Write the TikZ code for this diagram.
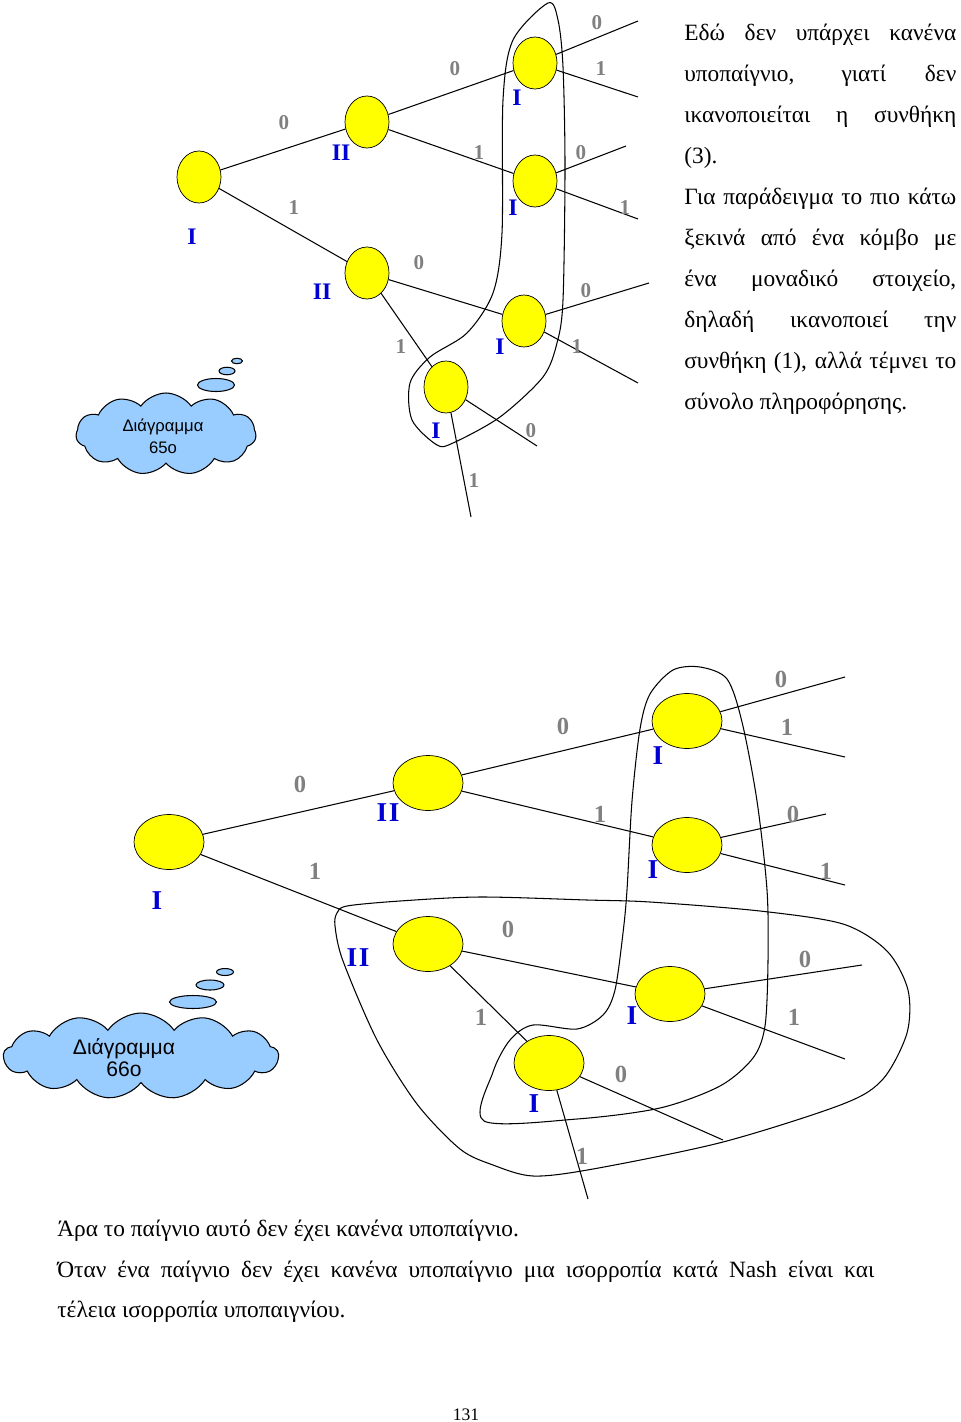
\documentclass[tikz,border=0pt]{standalone}
\usepackage{fontspec}
\setmainfont{Liberation Serif}
\newfontfamily\cloudfont{Liberation Sans}
\usepackage{tikz}
\usetikzlibrary{shapes.geometric,shapes.symbols}
\definecolor{movyellow}{RGB}{255,255,0}
\definecolor{cloudblue}{RGB}{153,204,255}
\definecolor{plyrblue}{RGB}{0,0,210}
\definecolor{actgray}{RGB}{128,128,128}
\newcommand{\jline}[2]{\makebox[#1][s]{#2}}

\begin{document}
\begin{tikzpicture}[
    x=0.02cm, y=-0.02cm,
    mov/.style={draw, ellipse, fill=movyellow, inner sep=0pt,
        minimum width=0.88cm, minimum height=1.04cm},
    movwide/.style={mov, minimum width=1.4cm, minimum height=1.1cm},
    plyr/.style={font=\fontsize{13.5}{14}\selectfont\bfseries, text=plyrblue, inner sep=0pt},
    plyrbig/.style={plyr, font=\fontsize{15.5}{16}\selectfont\bfseries},
    actlbl/.style={font=\fontsize{12}{13}\selectfont\bfseries, text=actgray, inner sep=0pt},
    actbig/.style={actlbl, font=\fontsize{14}{15}\selectfont\bfseries},
    brnch/.style={semithick},
    infoset/.style={semithick},
    thought/.style={draw, semithick, fill=cloudblue, ellipse, inner sep=0pt},
    puff/.style={cloud, cloud puffs=11, cloud puff arc=110, cloud ignores aspect,
        draw, semithick, fill=cloudblue, inner sep=0pt},
    bodytxt/.style={font=\fontsize{13.3}{23}\selectfont, align=left, inner sep=0pt},
    notetxt/.style={bodytxt, font=\fontsize{13.3}{23.3}\selectfont}
]
\useasboundingbox (0,0) rectangle (960,1422);

% upper tree (65o)
\node[mov] (r1) at (199,177) {};
\node[mov] (a1) at (367,122) {};
\node[mov] (b1) at (367,273) {};
\node[mov] (c1) at (535,63) {};
\node[mov] (d1) at (535,181) {};
\node[mov] (e1) at (524,321) {};
\node[mov] (f1) at (446,387) {};
\coordinate (lc1a) at (638,21);
\coordinate (lc1b) at (638,97);
\coordinate (ld1a) at (626,146);
\coordinate (ld1b) at (638,219);
\coordinate (le1a) at (649,283);
\coordinate (le1b) at (638,383);
\coordinate (lf1a) at (537,446);
\coordinate (lf1b) at (471,517);
\draw[brnch] (r1) -- (a1);
\draw[brnch] (r1) -- (b1);
\draw[brnch] (a1) -- (c1);
\draw[brnch] (a1) -- (d1);
\draw[brnch] (b1) -- (e1);
\draw[brnch] (b1) -- (f1);
\draw[brnch] (c1) -- (lc1a);
\draw[brnch] (c1) -- (lc1b);
\draw[brnch] (d1) -- (ld1a);
\draw[brnch] (d1) -- (ld1b);
\draw[brnch] (e1) -- (le1a);
\draw[brnch] (e1) -- (le1b);
\draw[brnch] (f1) -- (lf1a);
\draw[brnch] (f1) -- (lf1b);
\node[plyr] (pr1) at (192,237) {I};
\node[plyr] (pa1) at (341,153) {II};
\node[plyr] (pb1) at (322,292) {II};
\node[plyr] (pc1) at (517,98) {I};
\node[plyr] (pd1) at (513,208) {I};
\node[plyr] (pe1) at (500,347) {I};
\node[plyr] (pf1) at (436,431) {I};
\node[actlbl] (xr1a) at (284,123) {0};
\node[actlbl] (xr1b) at (294,208) {1};
\node[actlbl] (xa1a) at (455,69) {0};
\node[actlbl] (xa1b) at (479,153) {1};
\node[actlbl] (xb1a) at (419,263) {0};
\node[actlbl] (xb1b) at (401,347) {1};
\node[actlbl] (xc1a) at (597,23) {0};
\node[actlbl] (xc1b) at (601,69) {1};
\node[actlbl] (xd1a) at (581,153) {0};
\node[actlbl] (xd1b) at (625,208) {1};
\node[actlbl] (xe1a) at (586,291) {0};
\node[actlbl] (xe1b) at (577,347) {1};
\node[actlbl] (xf1a) at (531,431) {0};
\node[actlbl] (xf1b) at (474,481) {1};
\draw[infoset] plot[smooth cycle] coordinates {(548,3) (558,20) (563,67)
    (565,167) (563,300) (557,343) (543,377) (500,417) (453,443) (437,445)
    (412,420) (410,383) (430,357) (467,333) (493,293) (502,233) (503,100)
    (513,40)};

% cloud 65o
\node[puff, minimum width=3.6cm, minimum height=1.64cm] (cl1) at (166,434) {};
\node[font=\cloudfont\fontsize{9.5}{12.5}\selectfont, align=center, inner sep=0pt] (cl1txt) at (163,436) {Διάγραμμα\\65ο};
\node[thought, minimum width=0.74cm, minimum height=0.26cm] (tb1a) at (216,385) {};
\node[thought, minimum width=0.32cm, minimum height=0.15cm] (tb1b) at (227,371) {};
\node[thought, minimum width=0.22cm, minimum height=0.11cm] (tb1c) at (237,361) {};

% side note
\node[notetxt, anchor=north west] (note) at (684,24) {%
\jline{154.8pt}{Εδώ δεν υπάρχει κανένα}\\
\jline{154.8pt}{υποπαίγνιο, γιατί δεν}\\
\jline{154.8pt}{ικανοποιείται η συνθήκη}\\
(3).\\
\jline{154.8pt}{Για παράδειγμα το πιο κάτω}\\
\jline{154.8pt}{ξεκινά από ένα κόμβο με}\\
\jline{154.8pt}{ένα μοναδικό στοιχείο,}\\
\jline{154.8pt}{δηλαδή ικανοποιεί την}\\
\jline{154.8pt}{συνθήκη (1), αλλά τέμνει το}\\
σύνολο πληροφόρησης.};

% lower tree (66o)
\node[movwide] (r2) at (169,842) {};
\node[movwide] (a2) at (428,783) {};
\node[movwide] (b2) at (428,944) {};
\node[movwide] (c2) at (687,721) {};
\node[movwide] (d2) at (687,845) {};
\node[movwide] (e2) at (670,994) {};
\node[movwide] (f2) at (549,1063) {};
\coordinate (lc2a) at (845,677);
\coordinate (lc2b) at (845,757);
\coordinate (ld2a) at (826,814);
\coordinate (ld2b) at (845,885);
\coordinate (le2a) at (862,965);
\coordinate (le2b) at (845,1059);
\coordinate (lf2a) at (723,1140);
\coordinate (lf2b) at (588,1199);
\draw[brnch] (r2) -- (a2);
\draw[brnch] (r2) -- (b2);
\draw[brnch] (a2) -- (c2);
\draw[brnch] (a2) -- (d2);
\draw[brnch] (b2) -- (e2);
\draw[brnch] (b2) -- (f2);
\draw[brnch] (c2) -- (lc2a);
\draw[brnch] (c2) -- (lc2b);
\draw[brnch] (d2) -- (ld2a);
\draw[brnch] (d2) -- (ld2b);
\draw[brnch] (e2) -- (le2a);
\draw[brnch] (e2) -- (le2b);
\draw[brnch] (f2) -- (lf2a);
\draw[brnch] (f2) -- (lf2b);
\node[plyrbig] (pr2) at (157,901) {I};
\node[plyrbig] (pa2) at (388,813) {I\kern1pt I};
\node[plyrbig] (pb2) at (358,958) {I\kern1pt I};
\node[plyrbig] (pc2) at (658,756) {I};
\node[plyrbig] (pd2) at (653,870) {I};
\node[plyrbig] (pe2) at (632,1016) {I};
\node[plyrbig] (pf2) at (534,1104) {I};
\node[actbig] (xr2a) at (300,784) {0};
\node[actbig] (xr2b) at (315,871) {1};
\node[actbig] (xa2a) at (563,726) {0};
\node[actbig] (xa2b) at (600,814) {1};
\node[actbig] (xb2a) at (508,929) {0};
\node[actbig] (xb2b) at (481,1017) {1};
\node[actbig] (xc2a) at (781,679) {0};
\node[actbig] (xc2b) at (787,727) {1};
\node[actbig] (xd2a) at (793,814) {0};
\node[actbig] (xd2b) at (826,871) {1};
\node[actbig] (xe2a) at (805,959) {0};
\node[actbig] (xe2b) at (794,1017) {1};
\node[actbig] (xf2a) at (621,1074) {0};
\node[actbig] (xf2b) at (582,1156) {1};
\draw[infoset] plot[smooth cycle] coordinates {(700,667) (727,679) (742,722)
    (757,801) (767,890) (768,961) (765,1026) (753,1058) (720,1086) (660,1108)
    (577,1119) (484,1121) (493,1072) (510,1040) (533,1025) (577,1029)
    (603,1015) (615,990) (623,933) (627,890) (632,801) (640,729) (650,694)
    (673,670)};
\draw[infoset] plot[smooth cycle] coordinates {(347,906) (400,901) (480,897)
    (587,900) (650,902) (760,911) (843,924) (887,951) (908,990) (907,1033)
    (883,1079) (843,1104) (723,1142) (593,1169) (533,1176) (493,1165)
    (460,1149) (417,1104) (377,1040) (343,961) (335,926) (337,913)};

% cloud 66o
\node[puff, cloud puffs=13, minimum width=5.5cm, minimum height=1.72cm] (cl2) at (141,1056) {};
\node[font=\cloudfont\fontsize{12}{12.6}\selectfont, align=center, inner sep=0pt] (cl2txt) at (124,1058) {Διάγραμμα\\66ο};
\node[thought, minimum width=0.94cm, minimum height=0.26cm] (tb2a) at (193,1002) {};
\node[thought, minimum width=0.56cm, minimum height=0.2cm] (tb2b) at (210,985) {};
\node[thought, minimum width=0.34cm, minimum height=0.14cm] (tb2c) at (225,972) {};

% closing text
\node[bodytxt, anchor=north west] (concl) at (57,1220) {%
Άρα το παίγνιο αυτό δεν έχει κανένα υποπαίγνιο.\\
\jline{465pt}{Όταν ένα παίγνιο δεν έχει κανένα υποπαίγνιο μια ισορροπία κατά Nash είναι και}\\
τέλεια ισορροπία υποπαιγνίου.};
\node[font=\fontsize{10}{12}\selectfont, anchor=base] (pgno) at (466,1420) {131};
\end{tikzpicture}
\end{document}
